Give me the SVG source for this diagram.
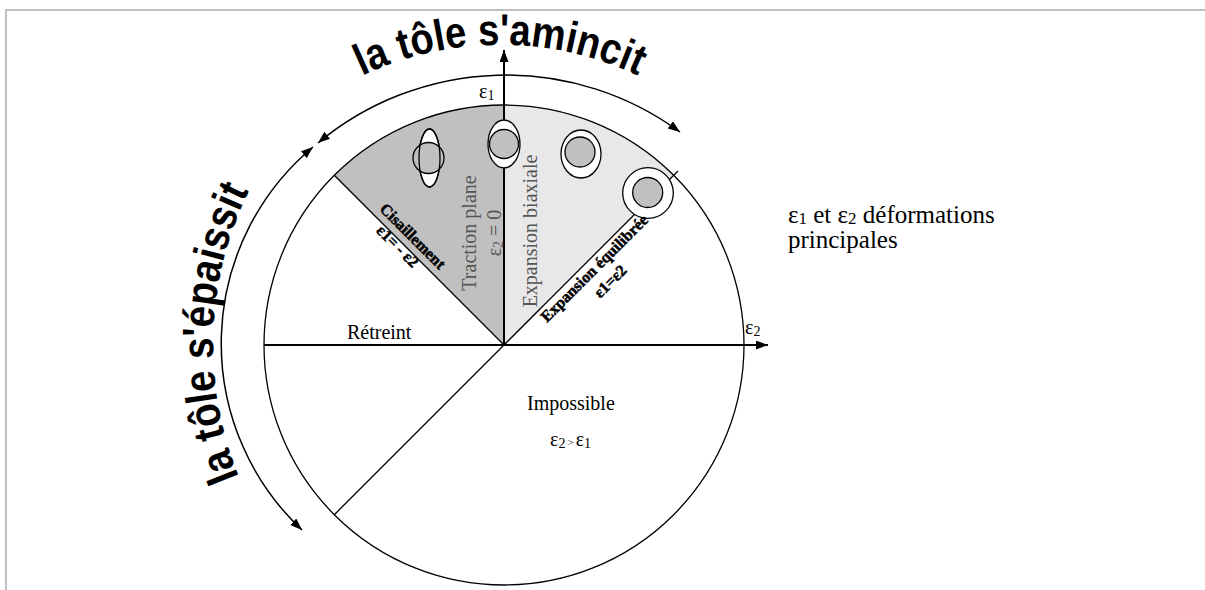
<svg xmlns="http://www.w3.org/2000/svg" xmlns:xlink="http://www.w3.org/1999/xlink" width="1205" height="590" viewBox="0 0 1205 590">
<style>
.ln{stroke:#000;fill:none;stroke-width:1.3}
.ax{stroke:#000;stroke-width:2;fill:none}
.arc{stroke:#000;stroke-width:1.5;fill:none}
.big{font-family:"Liberation Sans",Arial,sans-serif;font-weight:bold;font-size:44px;fill:#000}
.lbl{font-family:"Liberation Serif","Times New Roman",serif;font-size:20px;fill:#000}
.gl{fill:#555}
.bd{font-family:"Liberation Serif","Times New Roman",serif;font-weight:bold;font-size:16px;fill:#000;stroke:#000;stroke-width:0.5}
.sh{stroke:#000;stroke-width:1.3}
.wf{fill:#fff}
.gf{fill:#c0c0c0}
</style>
<defs>
<marker id="ah" markerUnits="userSpaceOnUse" markerWidth="14" markerHeight="10" refX="12" refY="4.5" orient="auto-start-reverse"><path d="M0,0 L12,4.5 L0,9 z" fill="#000"/></marker>
<path id="tp" d="M 291 121 A 325 325 0 0 1 709 121"/>
<path id="lp" d="M 279.5 549.5 A 348 348 0 0 1 294.4 121.3"/>
</defs>
<path d="M6,590 V10 H1205" stroke="#c0c0c0" stroke-width="2" fill="none"/>
<g id="sectors">
<path id="cisaillement-sector" d="M504,345 L504,105 A240,240 0 0 0 334.3,175.3 Z" fill="#c0c0c0"/>
<path id="expansion-sector" d="M504,345 L673.7,175.3 A240,240 0 0 0 504,105 Z" fill="#e8e8e8"/>
<circle id="fld" cx="504" cy="345" r="240" class="ln"/>
</g>
<g id="connectors">
<path class="ln" d="M504,345 L334.3,175.3"/>
<path class="ln" d="M504,345 L678,171"/>
<path class="ln" d="M504,345 L334.3,514.7"/>
<path class="ax" d="M264,345 L768,345" marker-end="url(#ah)"/>
<path class="ax" d="M504,345 L504,50" marker-end="url(#ah)"/>
<path class="arc" d="M 318 143 A 294 294 0 0 1 680 132" marker-start="url(#ah)" marker-end="url(#ah)"/>
<path class="arc" d="M 302 530 A 256 256 0 0 1 313 147" marker-start="url(#ah)" marker-end="url(#ah)"/>
</g>
<g id="shape-cisaillement">
<ellipse class="sh wf" cx="429.5" cy="158" rx="10.5" ry="29"/>
<circle class="sh gf" cx="428.5" cy="158" r="15.5"/>
<ellipse class="sh" fill="none" cx="429.5" cy="158" rx="10.5" ry="29"/>
</g>
<g id="shape-traction">
<ellipse class="sh wf" cx="504" cy="144" rx="16" ry="24"/>
<circle class="sh gf" cx="504" cy="144" r="14.5"/>
</g>
<g id="shape-biaxiale">
<ellipse class="sh wf" cx="581" cy="154" rx="20" ry="24"/>
<circle class="sh gf" cx="580" cy="152" r="15"/>
</g>
<g id="shape-equilibree">
<circle class="sh wf" cx="648" cy="193" r="25.3"/>
<circle class="sh gf" cx="647.7" cy="192.5" r="15"/>
</g>
<g id="labels">
<text class="big"><textPath href="#tp" xlink:href="#tp" startOffset="50%" text-anchor="middle" textLength="285" lengthAdjust="spacingAndGlyphs">la tôle s'amincit</textPath></text>
<text class="big"><textPath href="#lp" xlink:href="#lp" startOffset="50%" text-anchor="middle" textLength="295" lengthAdjust="spacingAndGlyphs">la tôle s'épaissit</textPath></text>
<text class="lbl" x="479" y="98">ε<tspan font-size="14" dy="2">1</tspan></text>
<text class="lbl" x="745" y="334">ε<tspan font-size="14" dy="2">2</tspan></text>
<text class="lbl" x="347" y="339">Rétreint</text>
<text class="lbl" x="527" y="410">Impossible</text>
<text class="lbl" x="550" y="446">ε<tspan font-size="14" dy="2">2</tspan><tspan font-size="11" dx="2" dy="-2">&gt;</tspan><tspan dx="2">ε</tspan><tspan font-size="14" dy="2">1</tspan></text>
<text class="lbl" x="788" y="223" style="font-size:25px">ε<tspan font-size="17" dy="1">1</tspan><tspan dy="-1"> et ε</tspan><tspan font-size="17" dy="1">2</tspan><tspan dy="-1"> déformations</tspan></text>
<text class="lbl" x="788" y="248" style="font-size:25px">principales</text>
<text class="lbl gl" transform="translate(476,233) rotate(-90)" text-anchor="middle">Traction plane</text>
<text class="lbl gl" transform="translate(501,233) rotate(-90)" text-anchor="middle">ε<tspan font-size="14" dy="2">2</tspan><tspan dy="-2"> = 0</tspan></text>
<text class="lbl gl" transform="translate(537,231) rotate(-90)" text-anchor="middle">Expansion biaxiale</text>
<text class="bd" transform="translate(409,240) rotate(45)" text-anchor="middle">Cisaillement</text>
<text class="bd" transform="translate(394,250) rotate(45)" text-anchor="middle">ε1= - ε2</text>
<text class="bd" transform="translate(598,272) rotate(-45)" text-anchor="middle">Expansion équilibrée</text>
<text class="bd" transform="translate(614,285) rotate(-45)" text-anchor="middle">ε1=ε2</text>
</g>
</svg>
